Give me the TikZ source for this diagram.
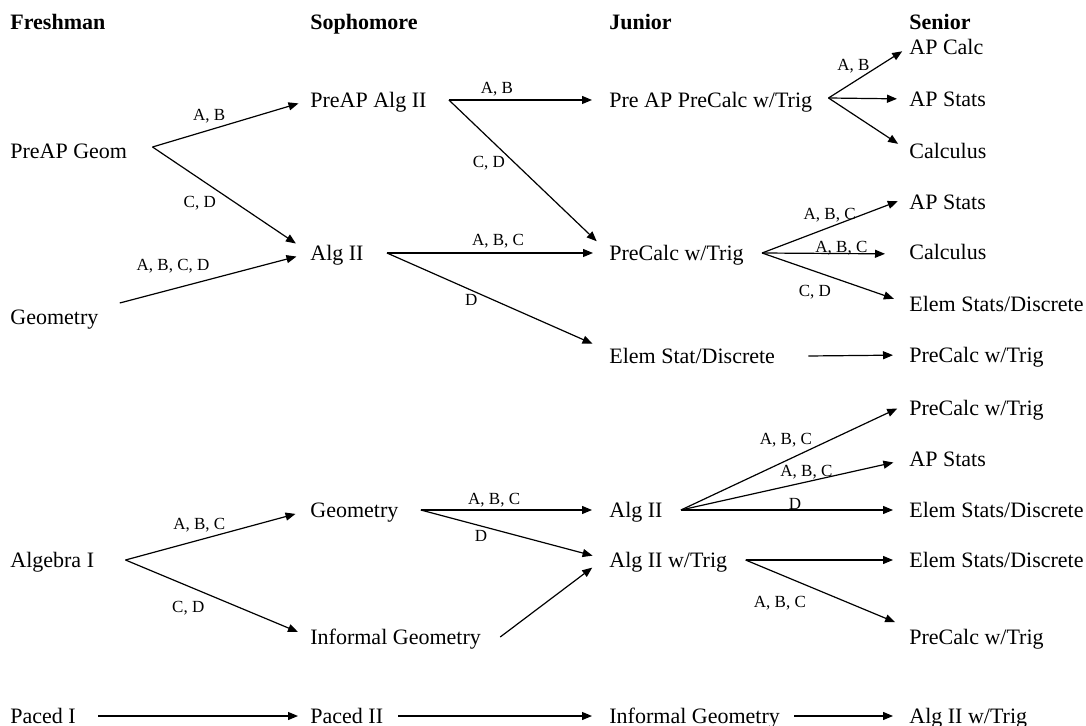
\documentclass[tikz,border=0pt]{standalone}
\usepackage{fontspec}
\setmainfont{Liberation Serif}
\usetikzlibrary{arrows.meta}
\tikzset{
  course/.style={anchor=west,inner sep=0pt,text height=7.3pt,text depth=0pt,font=\fontsize{11}{13}\selectfont},
  head/.style={course,font=\fontsize{11}{13}\selectfont\bfseries},
  lbl/.style={inner sep=0pt,text height=5.6pt,text depth=0pt,font=\fontsize{8.5}{10}\selectfont},
  arr/.style={-{Triangle[length=5pt,width=4pt]},line width=.6pt}
}
\begin{document}
\begin{tikzpicture}[x=.5pt,y=-.5pt]
  \useasboundingbox (0,0) rectangle (1086,726);
  \foreach \x/\name in {10/Freshman,310/Sophomore,609/Junior,909/Senior}{\node[head] (h\x) at (\x,22) {\name};}
  % freshman
  \node[course] (pgeom) at (10,151) {PreAP Geom};
  \node[course] (geom) at (10,317) {Geometry};
  \node[course] (algone) at (10,560) {Algebra I};
  \node[course] (pacedone) at (10,716) {Paced I};
  % sophomore
  \node[course] (palgtwo) at (310,100) {PreAP Alg II};
  \node[course] (algtwo) at (310,253) {Alg II};
  \node[course] (sgeom) at (310,510) {Geometry};
  \node[course] (sinfgeom) at (310,637) {Informal Geometry};
  \node[course] (pacedtwo) at (310,716) {Paced II};
  % junior
  \node[course] (papcalc) at (609,100) {Pre AP PreCalc w/Trig};
  \node[course] (jprecalc) at (609,253) {PreCalc w/Trig};
  \node[course] (jelem) at (609,356) {Elem Stat/Discrete};
  \node[course] (jalgtwo) at (609,510) {Alg II};
  \node[course] (jalgtrig) at (609,560) {Alg II w/Trig};
  \node[course] (jinfgeom) at (609,716) {Informal Geometry};
  % senior
  \node[course] (apcalc) at (909,47) {AP Calc};
  \node[course] (apstatsA) at (909,99) {AP Stats};
  \node[course] (calcA) at (909,151) {Calculus};
  \node[course] (apstatsB) at (909,202) {AP Stats};
  \node[course] (calcB) at (909,252) {Calculus};
  \node[course] (elemA) at (909,304) {Elem Stats/Discrete};
  \node[course] (precalcA) at (909,355) {PreCalc w/Trig};
  \node[course] (precalcB) at (909,408) {PreCalc w/Trig};
  \node[course] (apstatsC) at (909,459) {AP Stats};
  \node[course] (elemB) at (909,510) {Elem Stats/Discrete};
  \node[course] (elemC) at (909,560) {Elem Stats/Discrete};
  \node[course] (precalcC) at (909,637) {PreCalc w/Trig};
  \node[course] (algtrig) at (909,716) {Alg II w/Trig};
  % top tracks
  \draw[arr,shorten >=6pt] ([xshift=12.5pt,yshift=2pt]pgeom.east) -- (palgtwo.west) node[lbl,pos=.36,yshift=7.5pt] {A, B};
  \draw[arr,shorten >=8.5pt] ([xshift=12.5pt,yshift=2pt]pgeom.east) -- (algtwo.west) node[lbl,pos=.30,yshift=-11.5pt] {C, D};
  \draw[arr,shorten >=7pt] ([xshift=10.5pt,yshift=7pt]geom.east) -- (algtwo.west) node[lbl,pos=.28,yshift=12pt] {A, B, C, D};
  \draw[arr,shorten >=8.5pt] ([xshift=11pt]palgtwo.east) -- (papcalc.west) node[lbl,pos=.30,yshift=6pt] {A, B};
  \draw[arr,shorten >=8.5pt] ([xshift=11pt]palgtwo.east) -- (jprecalc.west) node[lbl,pos=.25,yshift=-12pt] {C, D};
  \draw[arr,shorten >=8pt] ([xshift=11.5pt]algtwo.east) -- (jprecalc.west) node[lbl,pos=.5,yshift=6.5pt] {A, B, C};
  \draw[arr,shorten >=9pt] ([xshift=11.5pt]algtwo.east) -- ([yshift=2.5pt]jelem.west) node[lbl,pos=.38,yshift=-5pt] {D};
  \draw[arr,shorten >=4pt] ([xshift=8pt,yshift=1pt]papcalc.east) -- (apcalc.west) node[lbl,pos=.31,yshift=8.5pt] {A, B};
  \draw[arr,shorten >=6pt] ([xshift=8pt,yshift=1pt]papcalc.east) -- (apstatsA.west);
  \draw[arr,shorten >=6.5pt] ([xshift=8pt,yshift=1pt]papcalc.east) -- (calcA.west);
  \draw[arr,shorten >=6pt] ([xshift=9pt]jprecalc.east) -- ([yshift=2.5pt]apstatsB.west) node[lbl,pos=.46,yshift=6.75pt] {A, B, C};
  \draw[arr,shorten >=12pt] ([xshift=9pt]jprecalc.east) -- ([yshift=-1pt]calcB.west) node[lbl,pos=.54,yshift=3.5pt] {A, B, C};
  \draw[arr,shorten >=8pt] ([xshift=9pt]jprecalc.east) -- (elemA.west) node[lbl,pos=.36,yshift=-10pt] {C, D};
  \draw[arr,shorten >=8pt] ([xshift=16.5pt]jelem.east) -- (precalcA.west);
  % bottom tracks
  \draw[arr,shorten >=7.5pt] ([xshift=15.5pt]algone.east) -- (sgeom.west) node[lbl,pos=.4,yshift=8pt] {A, B, C};
  \draw[arr,shorten >=6.5pt] ([xshift=15.5pt]algone.east) -- (sinfgeom.west) node[lbl,pos=.34,yshift=-10.5pt] {C, D};
  \draw[arr,shorten >=6pt] ([xshift=11pt]pacedone.east) -- (pacedtwo.west);
  \draw[arr,shorten >=8.5pt] ([xshift=7.5pt]pacedtwo.east) -- (jinfgeom.west);
  \draw[arr,shorten >=8pt] ([xshift=7pt]jinfgeom.east) -- (algtrig.west);
  \draw[arr,shorten >=8.5pt] ([xshift=11pt]sgeom.east) -- (jalgtwo.west) node[lbl,pos=.39,yshift=5.5pt] {A, B, C};
  \draw[arr,shorten >=8.5pt] ([xshift=11pt]sgeom.east) -- (jalgtrig.west) node[lbl,pos=.32,yshift=-5pt] {D};
  \draw[arr,shorten >=10.5pt] ([xshift=9.5pt]sinfgeom.east) -- ([yshift=2.5pt]jalgtrig.west);
  \draw[arr,shorten >=6.5pt] ([xshift=9pt]jalgtwo.east) -- ([yshift=2.5pt]precalcB.west) node[lbl,pos=.46,yshift=10.75pt] {A, B, C};
  \draw[arr,shorten >=8pt] ([xshift=9pt]jalgtwo.east) -- (apstatsC.west) node[lbl,pos=.55,yshift=5.3pt] {A, B, C};
  \draw[arr,shorten >=8pt] ([xshift=9pt]jalgtwo.east) -- (elemB.west) node[lbl,pos=.5,yshift=3pt] {D};
  \draw[arr,shorten >=8pt] ([xshift=9pt]jalgtrig.east) -- (elemC.west);
  \draw[arr,shorten >=7.5pt] ([xshift=9pt]jalgtrig.east) -- ([yshift=4.5pt]precalcC.west) node[lbl,pos=.21,yshift=-13.7pt] {A, B, C};
\end{tikzpicture}
\end{document}
